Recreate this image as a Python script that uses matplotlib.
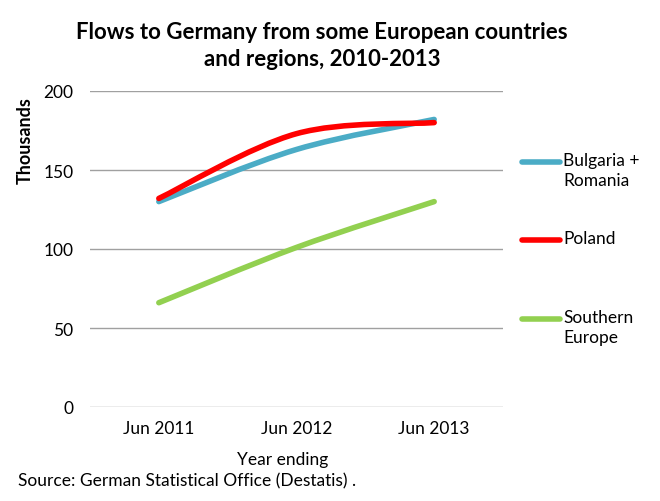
import numpy as np
import matplotlib.pyplot as plt
from matplotlib.path import Path
from matplotlib.patches import PathPatch
from matplotlib.lines import Line2D

plt.rcParams['font.family'] = ['Lato', 'DejaVu Sans']

periods = ["Jun 2011", "Jun 2012", "Jun 2013"]
bulgaria_romania = [130, 163, 182]
poland = [132, 173, 180]
southern_europe = [66, 101, 130]

series_names = ["Bulgaria +\nRomania", "Poland", "Southern\nEurope"]
series_colors = ["#4bacc6", "#ff0000", "#92d050"]


def smooth_path(xs, ys):
    # Excel-style smoothed line: cubic Bezier segments through the data points
    pts = np.column_stack([xs, ys]).astype(float)
    n = len(pts)
    verts = [pts[0]]
    codes = [Path.MOVETO]
    for i in range(n - 1):
        p0 = pts[max(i - 1, 0)]
        p1 = pts[i]
        p2 = pts[i + 1]
        p3 = pts[min(i + 2, n - 1)]
        c1 = p1 + (p2 - p0) / 6.0
        c2 = p2 - (p3 - p1) / 6.0
        verts += [c1, c2, p2]
        codes += [Path.CURVE4] * 3
    return Path(verts, codes)


fig = plt.figure(figsize=(6.6, 5.02), dpi=100)
ax = fig.add_axes([90/660, 1 - 408/502, 413/660, 316/502])

x = np.arange(len(periods))
for vals, col in zip([bulgaria_romania, poland, southern_europe], series_colors):
    patch = PathPatch(smooth_path(x, vals), fill=False, edgecolor=col,
                      linewidth=4, capstyle='round', joinstyle='round')
    ax.add_patch(patch)

ax.set_xlim(-0.5, len(periods) - 0.5)
ax.set_ylim(0, 200)
ax.set_yticks([0, 50, 100, 150, 200])
ax.set_xticks(x)
ax.set_xticklabels(periods)
ax.tick_params(length=0, labelsize=12.5, colors='black', pad=9)
ax.tick_params(axis='y', pad=12)
ax.grid(axis='y', color='#a0a0a0', linewidth=1)
ax.set_axisbelow(True)
for s in ax.spines.values():
    s.set_visible(False)

fig.text(322/660, 1 - 46/502, "Flows to Germany from some European countries\nand regions, 2010-2013",
         ha='center', va='center', fontsize=16, fontweight='bold', linespacing=1.3)
fig.text(25/660, 1 - 141/502, "Thousands", rotation=90, ha='center', va='center',
         fontsize=13, fontweight='bold')
fig.text(283/660, 1 - 460/502, "Year ending", ha='center', va='center', fontsize=12.5)
fig.text(18/660, 1 - 481/502, "Source: German Statistical Office (Destatis) .",
         ha='left', va='center', fontsize=12.5)

legend_y = [163, 241, 320]
for name, col, ly in zip(series_names, series_colors, legend_y):
    yf = 1 - ly / 502
    fig.add_artist(Line2D([522/660, 560/660], [yf, yf], color=col, linewidth=4,
                          solid_capstyle='round', transform=fig.transFigure))
    fig.text(563/660, yf + 10/502, name, ha='left', va='top', fontsize=12.5, linespacing=1.3)

fig.savefig("out.png", dpi=100)
